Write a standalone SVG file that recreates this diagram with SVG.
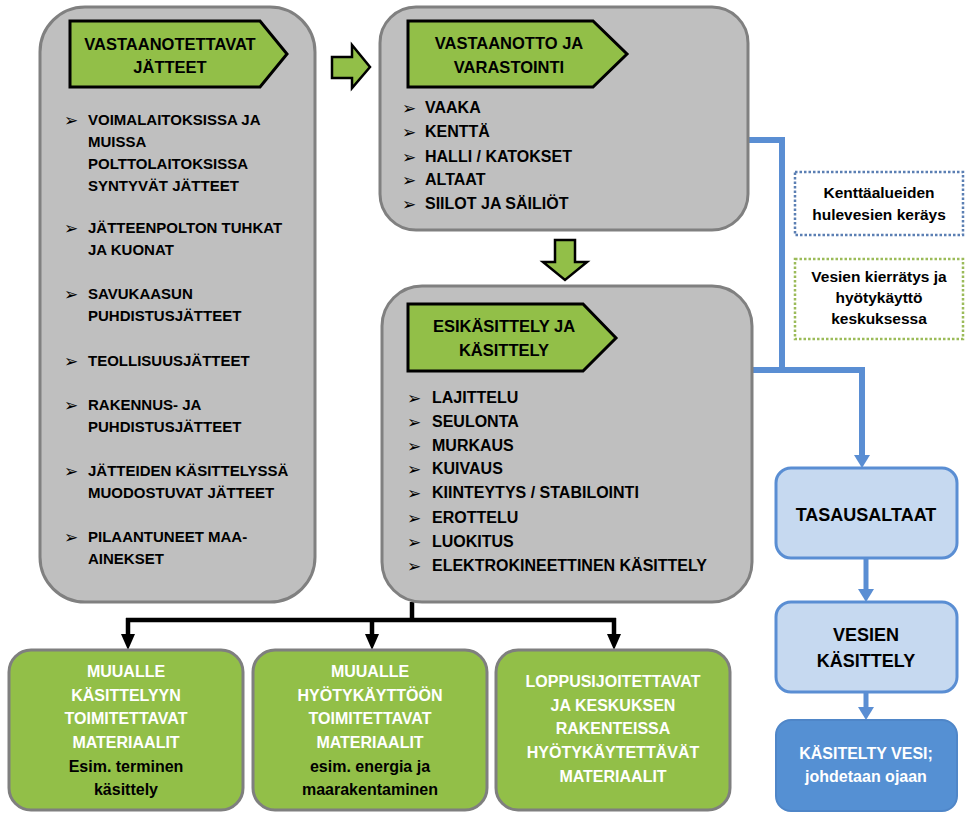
<svg xmlns="http://www.w3.org/2000/svg" width="974" height="816" viewBox="0 0 974 816">
<style>
text{font-family:"Liberation Sans",Arial,sans-serif;font-weight:bold;}
.panel{fill:#bfbfbf;stroke:#808080;stroke-width:3;}
.banner{fill:#92bf48;stroke:#000;stroke-width:3;stroke-linejoin:miter;}
.garrow{fill:#92bf48;stroke:#000;stroke-width:2.5;}
.bt{font-size:16.5px;fill:#000;text-anchor:middle;}
.b15{font-size:15px;fill:#000;}
.b16{font-size:16px;fill:#000;}
.bul{font-family:"DejaVu Sans",sans-serif;font-weight:bold;font-size:17px;fill:#000;}
.gbox{fill:#92bf48;stroke:#7f7f7f;stroke-width:3;}
.wt{font-size:16px;fill:#fff;text-anchor:middle;}
.kt{font-size:16px;fill:#000;text-anchor:middle;}
.lbbox{fill:#c6d9f0;stroke:#5a8ed3;stroke-width:3;}
.dbox{fill:#fff;stroke-width:2.5;stroke-dasharray:2.5 2;}
.dt{font-size:15.5px;fill:#000;text-anchor:middle;}
.blue{fill:none;stroke:#5a8ed3;stroke-width:6;}
.bluea{fill:none;stroke:#5a8ed3;stroke-width:5;}
.black{fill:none;stroke:#000;stroke-width:4.5;}
</style>
<defs>
<marker id="ah-blue" viewBox="0 0 13 16" refX="1" refY="8" markerWidth="13" markerHeight="16" markerUnits="userSpaceOnUse" orient="auto">
<path d="M0,0 L13,8 L0,16 z" fill="#5a8ed3"/>
</marker>
<marker id="ah-black" viewBox="0 0 16 14" refX="1" refY="7" markerWidth="16" markerHeight="14" markerUnits="userSpaceOnUse" orient="auto">
<path d="M0,0 L16,7 L0,14 z" fill="#000"/>
</marker>
</defs>
<rect width="974" height="816" fill="#fff"/>

<g id="connectors">
<path class="blue" d="M748,140 H782 V370"/>
<path class="blue" d="M752,370 H862 V456" marker-end="url(#ah-blue)"/>
<path class="bluea" d="M866,558 V590" marker-end="url(#ah-blue)"/>
<path class="bluea" d="M866,692 V708" marker-end="url(#ah-blue)"/>
<path class="black" d="M412,602 V620"/>
<path class="black" d="M126,620 H616"/>
<path class="black" d="M128,618 V635" marker-end="url(#ah-black)"/>
<path class="black" d="M372,618 V635" marker-end="url(#ah-black)"/>
<path class="black" d="M614,618 V635" marker-end="url(#ah-black)"/>
<polygon class="garrow" points="332,57 352,57 352,45 370,67 352,88 352,78 332,78"/>
<polygon class="garrow" points="555,240 575,240 575,262 587,262 565,280 543,262 555,262"/>
</g>

<g id="vastaanotettavat">
<rect class="panel" x="40" y="7" width="275" height="595" rx="45"/>
<polygon class="banner" points="70,21 260,21 287,54 260,87 70,87"/>
<text class="bt" x="170" y="50">VASTAANOTETTAVAT</text>
<text class="bt" x="170" y="73">JÄTTEET</text>
<text class="bul" x="64" y="126">➢</text>
<text class="b15" x="88" y="125">VOIMALAITOKSISSA JA</text>
<text class="b15" x="88" y="147">MUISSA</text>
<text class="b15" x="88" y="169">POLTTOLAITOKSISSA</text>
<text class="b15" x="88" y="191">SYNTYVÄT JÄTTEET</text>
<text class="bul" x="64" y="234">➢</text>
<text class="b15" x="88" y="233">JÄTTEENPOLTON TUHKAT</text>
<text class="b15" x="88" y="255">JA KUONAT</text>
<text class="bul" x="64" y="300">➢</text>
<text class="b15" x="88" y="299">SAVUKAASUN</text>
<text class="b15" x="88" y="321">PUHDISTUSJÄTTEET</text>
<text class="bul" x="64" y="367">➢</text>
<text class="b15" x="88" y="366">TEOLLISUUSJÄTTEET</text>
<text class="bul" x="64" y="411">➢</text>
<text class="b15" x="88" y="410">RAKENNUS- JA</text>
<text class="b15" x="88" y="432">PUHDISTUSJÄTTEET</text>
<text class="bul" x="64" y="477">➢</text>
<text class="b15" x="88" y="476">JÄTTEIDEN KÄSITTELYSSÄ</text>
<text class="b15" x="88" y="498">MUODOSTUVAT JÄTTEET</text>
<text class="bul" x="64" y="543">➢</text>
<text class="b15" x="88" y="542">PILAANTUNEET MAA-</text>
<text class="b15" x="88" y="564">AINEKSET</text>
</g>

<g id="vastaanotto">
<rect class="panel" x="380" y="7" width="368" height="223" rx="36"/>
<polygon class="banner" points="408,21 593,21 627,54 593,87 408,87"/>
<text class="bt" x="509" y="49">VASTAANOTTO JA</text>
<text class="bt" x="509" y="73">VARASTOINTI</text>
<text class="bul" x="402" y="114">➢</text>
<text class="b16" x="425" y="113">VAAKA</text>
<text class="bul" x="402" y="138">➢</text>
<text class="b16" x="425" y="137">KENTTÄ</text>
<text class="bul" x="402" y="163">➢</text>
<text class="b16" x="425" y="162">HALLI / KATOKSET</text>
<text class="bul" x="402" y="186">➢</text>
<text class="b16" x="425" y="185">ALTAAT</text>
<text class="bul" x="402" y="210">➢</text>
<text class="b16" x="425" y="209">SIILOT JA SÄILIÖT</text>
</g>

<g id="esikasittely">
<rect class="panel" x="382" y="286" width="370" height="316" rx="40"/>
<polygon class="banner" points="408,304 583,304 616,338 583,371 408,371"/>
<text class="bt" x="504" y="332">ESIKÄSITTELY JA</text>
<text class="bt" x="504" y="356">KÄSITTELY</text>
<text class="bul" x="407" y="404">➢</text>
<text class="b16" x="432" y="403">LAJITTELU</text>
<text class="bul" x="407" y="428">➢</text>
<text class="b16" x="432" y="427">SEULONTA</text>
<text class="bul" x="407" y="452">➢</text>
<text class="b16" x="432" y="451">MURKAUS</text>
<text class="bul" x="407" y="475">➢</text>
<text class="b16" x="432" y="474">KUIVAUS</text>
<text class="bul" x="407" y="499">➢</text>
<text class="b16" x="432" y="498">KIINTEYTYS / STABILOINTI</text>
<text class="bul" x="407" y="524">➢</text>
<text class="b16" x="432" y="523">EROTTELU</text>
<text class="bul" x="407" y="548">➢</text>
<text class="b16" x="432" y="547">LUOKITUS</text>
<text class="bul" x="407" y="572">➢</text>
<text class="b16" x="432" y="571">ELEKTROKINEETTINEN KÄSITTELY</text>
</g>

<g id="hulevesi">
<rect class="dbox" x="795" y="172" width="168" height="63" stroke="#5b7fb3"/>
<text class="dt" x="879" y="198">Kenttäalueiden</text>
<text class="dt" x="879" y="220">hulevesien keräys</text>
</g>

<g id="kierratys">
<rect class="dbox" x="795" y="259" width="168" height="80" stroke="#9bbb59"/>
<text class="dt" x="879" y="282">Vesien kierrätys ja</text>
<text class="dt" x="879" y="303">hyötykäyttö</text>
<text class="dt" x="879" y="324">keskuksessa</text>
</g>

<g id="tasausaltaat">
<rect class="lbbox" x="776" y="468" width="181" height="90" rx="15"/>
<text class="kt" x="866" y="521" style="font-size:18px">TASAUSALTAAT</text>
</g>

<g id="vesien-kasittely">
<rect class="lbbox" x="776" y="602" width="181" height="90" rx="15"/>
<text class="kt" x="866" y="641" style="font-size:18px">VESIEN</text>
<text class="kt" x="866" y="667" style="font-size:18px">KÄSITTELY</text>
</g>

<g id="kasitelty-vesi">
<rect x="776" y="720" width="181" height="91" rx="15" fill="#5590d3" stroke="#4f86c8" stroke-width="2"/>
<text class="wt" x="866" y="759">KÄSITELTY VESI;</text>
<text class="wt" x="866" y="782">johdetaan ojaan</text>
</g>

<g id="muualle-kasittelyyn">
<rect class="gbox" x="9" y="650" width="234" height="160" rx="22"/>
<text class="wt" x="126" y="677">MUUALLE</text>
<text class="wt" x="126" y="701">KÄSITTELYYN</text>
<text class="wt" x="126" y="724">TOIMITETTAVAT</text>
<text class="wt" x="126" y="748">MATERIAALIT</text>
<text class="kt" x="126" y="772">Esim. terminen</text>
<text class="kt" x="126" y="795">käsittely</text>
</g>

<g id="muualle-hyotykayttoon">
<rect class="gbox" x="253" y="650" width="234" height="160" rx="22"/>
<text class="wt" x="370" y="677">MUUALLE</text>
<text class="wt" x="370" y="701">HYÖTYKÄYTTÖÖN</text>
<text class="wt" x="370" y="724">TOIMITETTAVAT</text>
<text class="wt" x="370" y="748">MATERIAALIT</text>
<text class="kt" x="370" y="772">esim. energia ja</text>
<text class="kt" x="370" y="795">maarakentaminen</text>
</g>

<g id="loppusijoitettavat">
<rect class="gbox" x="496" y="650" width="234" height="160" rx="22"/>
<text class="wt" x="613" y="687">LOPPUSIJOITETTAVAT</text>
<text class="wt" x="613" y="711">JA KESKUKSEN</text>
<text class="wt" x="613" y="734">RAKENTEISSA</text>
<text class="wt" x="613" y="758">HYÖTYKÄYTETTÄVÄT</text>
<text class="wt" x="613" y="782">MATERIAALIT</text>
</g>
</svg>
